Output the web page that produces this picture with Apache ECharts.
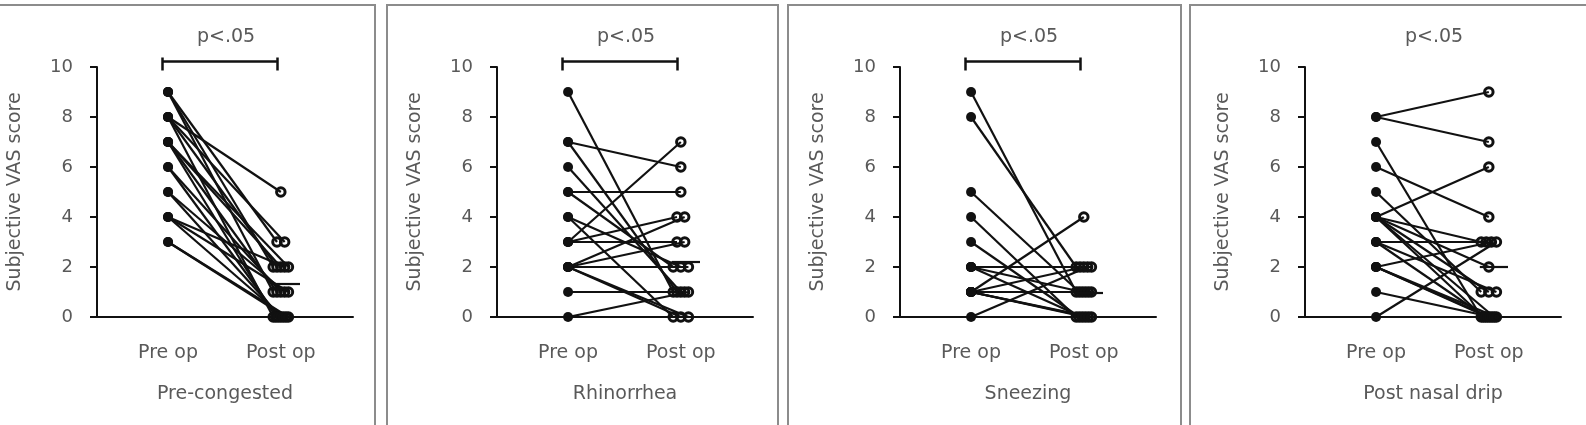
<!DOCTYPE html>
<html>
<head>
<meta charset="utf-8">
<title>Subjective VAS score</title>
<style>
  html, body { margin: 0; padding: 0; background: #fff; overflow: hidden; }
  #chart { width: 1586px; height: 425px; }
</style>
</head>
<body>
<div id="chart"></div>
<script src="https://cdn.jsdelivr.net/npm/echarts@6/dist/echarts.min.js"></script>
<script>
// one entry per patient, pre and post share the index
var categories = ['Pre op', 'Post op'];
var panelNames = ['Pre-congested', 'Rhinorrhea', 'Sneezing', 'Post nasal drip'];
var pLabels = ['p<.05', 'p<.05', 'p<.05', 'p<.05'];
var hasBracket = [true, true, true, false];

var congestedPre  = [9, 9, 9, 8, 8, 8, 8, 7, 7, 7, 6, 6, 5, 5, 4, 4, 4, 3, 3, 7];
var congestedPost = [3, 2, 1, 5, 3, 2, 0, 2, 1, 0, 1, 0, 1, 0, 1, 0, 2, 0, 0, 2];

var rhinorrheaPre  = [9, 7, 7, 6, 5, 5, 4, 4, 3, 3, 3, 2, 2, 2, 2, 2, 1, 0];
var rhinorrheaPost = [1, 6, 1, 1, 5, 2, 2, 0, 7, 4, 3, 4, 2, 3, 0, 0, 1, 1];

var sneezingPre  = [9, 8, 5, 4, 3, 2, 2, 2, 1, 1, 1, 1, 1, 1, 0, 1, 2, 1];
var sneezingPost = [1, 2, 1, 0, 0, 2, 1, 0, 4, 2, 0, 1, 0, 1, 2, 0, 2, 1];

var dripPre  = [8, 8, 7, 6, 5, 4, 4, 4, 4, 4, 3, 3, 3, 2, 2, 2, 1, 0, 4, 2];
var dripPost = [9, 7, 0, 4, 1, 6, 3, 1, 0, 2, 3, 1, 0, 3, 0, 0, 0, 3, 0, 0];

// mean bar drawn at the post op column
var postMeans = [1.33, 2.2, 0.98, 2.0];

var preSets = [congestedPre, rhinorrheaPre, sneezingPre, dripPre];
var postSets = [congestedPost, rhinorrheaPost, sneezingPost, dripPost];

// layout
var gridLeft = [97, 497, 900, 1305];
var boxes = [[-20, 395], [387, 391], [788, 393], [1190, 410]];
var textColor = '#595959';
var ink = '#111';
var font = 'DejaVu Sans';

// spread equal post scores sideways like a column scatter
function spread(values) {
  var counts = {}, seen = {};
  values.forEach(function (v) { counts[v] = (counts[v] || 0) + 1; });
  return values.map(function (v) {
    var n = counts[v];
    var k = seen[v] || 0;
    seen[v] = k + 1;
    if (n === 1) return 2;
    var step = Math.min(0.068, 0.135 / (n - 1));
    return 2 + (k - (n - 1) / 2) * step;
  });
}

var grid = [], xAxis = [], yAxis = [], series = [], title = [], graphic = [];

panelNames.forEach(function (name, i) {
  var pre = preSets[i], post = postSets[i];
  var xs = spread(post);

  grid.push({ left: gridLeft[i], top: 67, width: 256, height: 250 });

  xAxis.push({
    gridIndex: i, type: 'value', min: 0.37, max: 2.64,
    name: name, nameLocation: 'middle', nameGap: 68,
    nameTextStyle: { color: textColor, fontSize: 19, fontFamily: font },
    axisLine: { show: true, onZero: false, lineStyle: { color: ink, width: 2 } },
    axisTick: { show: false },
    splitLine: { show: false },
    axisLabel: {
      customValues: [1, 2],
      formatter: function (v) { return categories[Math.round(v) - 1]; },
      margin: 27, color: textColor, fontSize: 19, fontFamily: font
    }
  });

  yAxis.push({
    gridIndex: i, type: 'value', min: 0, max: 10, interval: 2,
    name: 'Subjective VAS score', nameLocation: 'middle', nameGap: 72, nameRotate: 90,
    nameTextStyle: { color: textColor, fontSize: 19, fontFamily: font },
    axisLine: { show: true, lineStyle: { color: ink, width: 2 } },
    axisTick: { show: true, length: 7, lineStyle: { color: ink, width: 2 } },
    splitLine: { show: false },
    axisLabel: { margin: 24, color: textColor, fontSize: 18, fontFamily: font }
  });

  title.push({
    text: pLabels[i], left: gridLeft[i] + 124, top: 23, textAlign: 'center',
    textStyle: { color: textColor, fontSize: 19, fontWeight: 'normal', fontFamily: font }
  });

  graphic.push({
    type: 'rect', silent: true,
    shape: { x: boxes[i][0], y: 5, width: boxes[i][1], height: 440 },
    style: { fill: 'none', stroke: '#8c8c8c', lineWidth: 2 }
  });

  // patient lines
  series.push({
    type: 'lines', coordinateSystem: 'cartesian2d', xAxisIndex: i, yAxisIndex: i,
    silent: true, z: 2,
    lineStyle: { color: ink, width: 2.2, opacity: 1 },
    data: pre.map(function (v, k) { return { coords: [[1, v], [xs[k], post[k]]] }; })
  });

  series.push({
    type: 'scatter', xAxisIndex: i, yAxisIndex: i, silent: true, z: 3,
    symbolSize: 10, itemStyle: { color: ink, opacity: 1 },
    data: pre.map(function (v) { return [1, v]; })
  });

  series.push({
    type: 'scatter', xAxisIndex: i, yAxisIndex: i, silent: true, z: 4,
    symbolSize: 8.5,
    itemStyle: { color: 'transparent', borderColor: ink, borderWidth: 3, opacity: 1 },
    data: post.map(function (v, k) { return [xs[k], v]; })
  });

  // mean
  series.push({
    type: 'lines', coordinateSystem: 'cartesian2d', xAxisIndex: i, yAxisIndex: i,
    silent: true, z: 5,
    lineStyle: { color: ink, width: 2.2, opacity: 1 },
    data: [{ coords: [[1.92, postMeans[i]], [2.17, postMeans[i]]] }]
  });

  if (hasBracket[i]) {
    series.push({
      type: 'lines', coordinateSystem: 'cartesian2d', xAxisIndex: i, yAxisIndex: i,
      silent: true, clip: false, z: 5,
      lineStyle: { color: ink, width: 2.5, opacity: 1 },
      data: [
        { coords: [[0.95, 10.22], [1.965, 10.22]] },
        { coords: [[0.95, 9.86], [0.95, 10.38]] },
        { coords: [[1.965, 9.86], [1.965, 10.38]] }
      ]
    });
  }
});

var chart = echarts.init(document.getElementById('chart'));
chart.setOption({
  animation: false,
  backgroundColor: '#fff',
  title: title,
  grid: grid,
  xAxis: xAxis,
  yAxis: yAxis,
  graphic: graphic,
  series: series
});
</script>
</body>
</html>
